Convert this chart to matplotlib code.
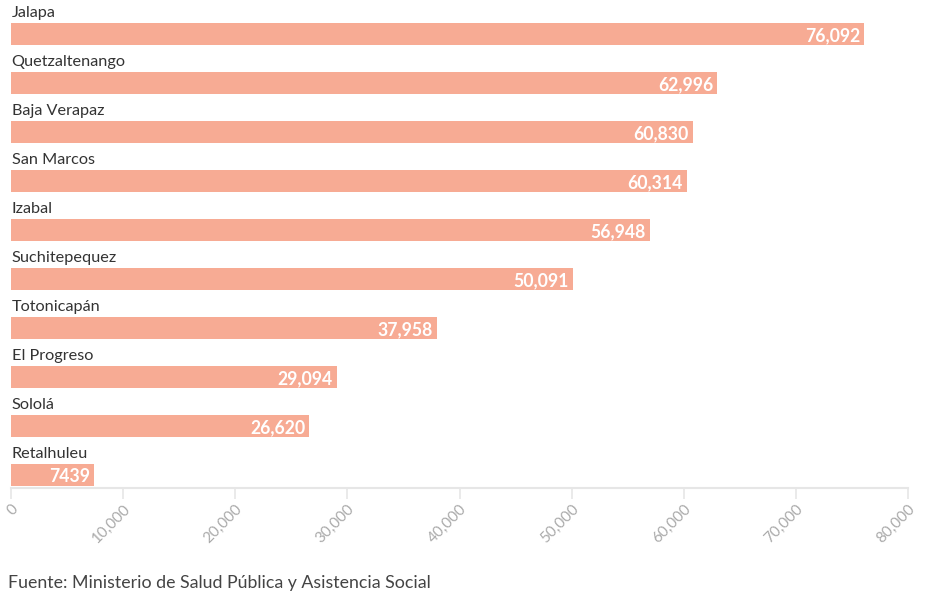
import matplotlib.pyplot as plt
from matplotlib.ticker import FuncFormatter

departamentos = ["Jalapa", "Quetzaltenango", "Baja Verapaz", "San Marcos", "Izabal",
                 "Suchitepequez", "Totonicapán", "El Progreso", "Sololá", "Retalhuleu"]
valores = [76092, 62996, 60830, 60314, 56948, 50091, 37958, 29094, 26620, 7439]
ticks = [0, 10000, 20000, 30000, 40000, 50000, 60000, 70000, 80000]

plt.rcParams['font.family'] = ['Lato', 'DejaVu Sans']

fig = plt.figure(figsize=(9.25, 6.01), dpi=100)
# axes placed in pixel terms: x 11..908, y top 0..488
ax = fig.add_axes([11 / 925, 1 - 488 / 601, 897 / 925, 488 / 601])

pos = list(range(len(departamentos)))
h = 22 / 49
ax.barh(pos, valores, height=h, color='#f7ab94')

for i, (d, v) in enumerate(zip(departamentos, valores)):
    ax.annotate(d, (0, i - h / 2), xytext=(0.5, 2), textcoords='offset points',
                ha='left', va='bottom', fontsize=11.7, color='#333333')
    lab = f"{v:,}" if v >= 10000 else str(v)
    ax.annotate(lab, (v, i), xytext=(-3, -1), textcoords='offset points',
                ha='right', va='center', fontsize=12.7, fontweight='bold', color='white')

ax.set_xlim(0, 80000)
ax.set_ylim(9 + 13 / 49, -34 / 49)
ax.set_xticks(ticks)
ax.xaxis.set_major_formatter(FuncFormatter(lambda x, p: f"{int(x):,}"))
ax.set_yticks([])
for s in ['top', 'right', 'left']:
    ax.spines[s].set_visible(False)
ax.spines['bottom'].set_color('#e6e6e6')
ax.spines['bottom'].set_linewidth(1.5)
ax.tick_params(axis='x', length=8, width=1.2, color='#e6e6e6', labelcolor='#aaaaaa',
               labelsize=11, pad=2)
for t in ax.get_xticklabels():
    t.set_rotation(45)
    t.set_ha('right')
    t.set_va('top')
    t.set_rotation_mode('anchor')

fig.text(8 / 925, 1 - 583 / 601, "Fuente: Ministerio de Salud Pública y Asistencia Social",
         ha='left', va='center', fontsize=12.8, color='#444444')

fig.savefig("out.png", dpi=100)
